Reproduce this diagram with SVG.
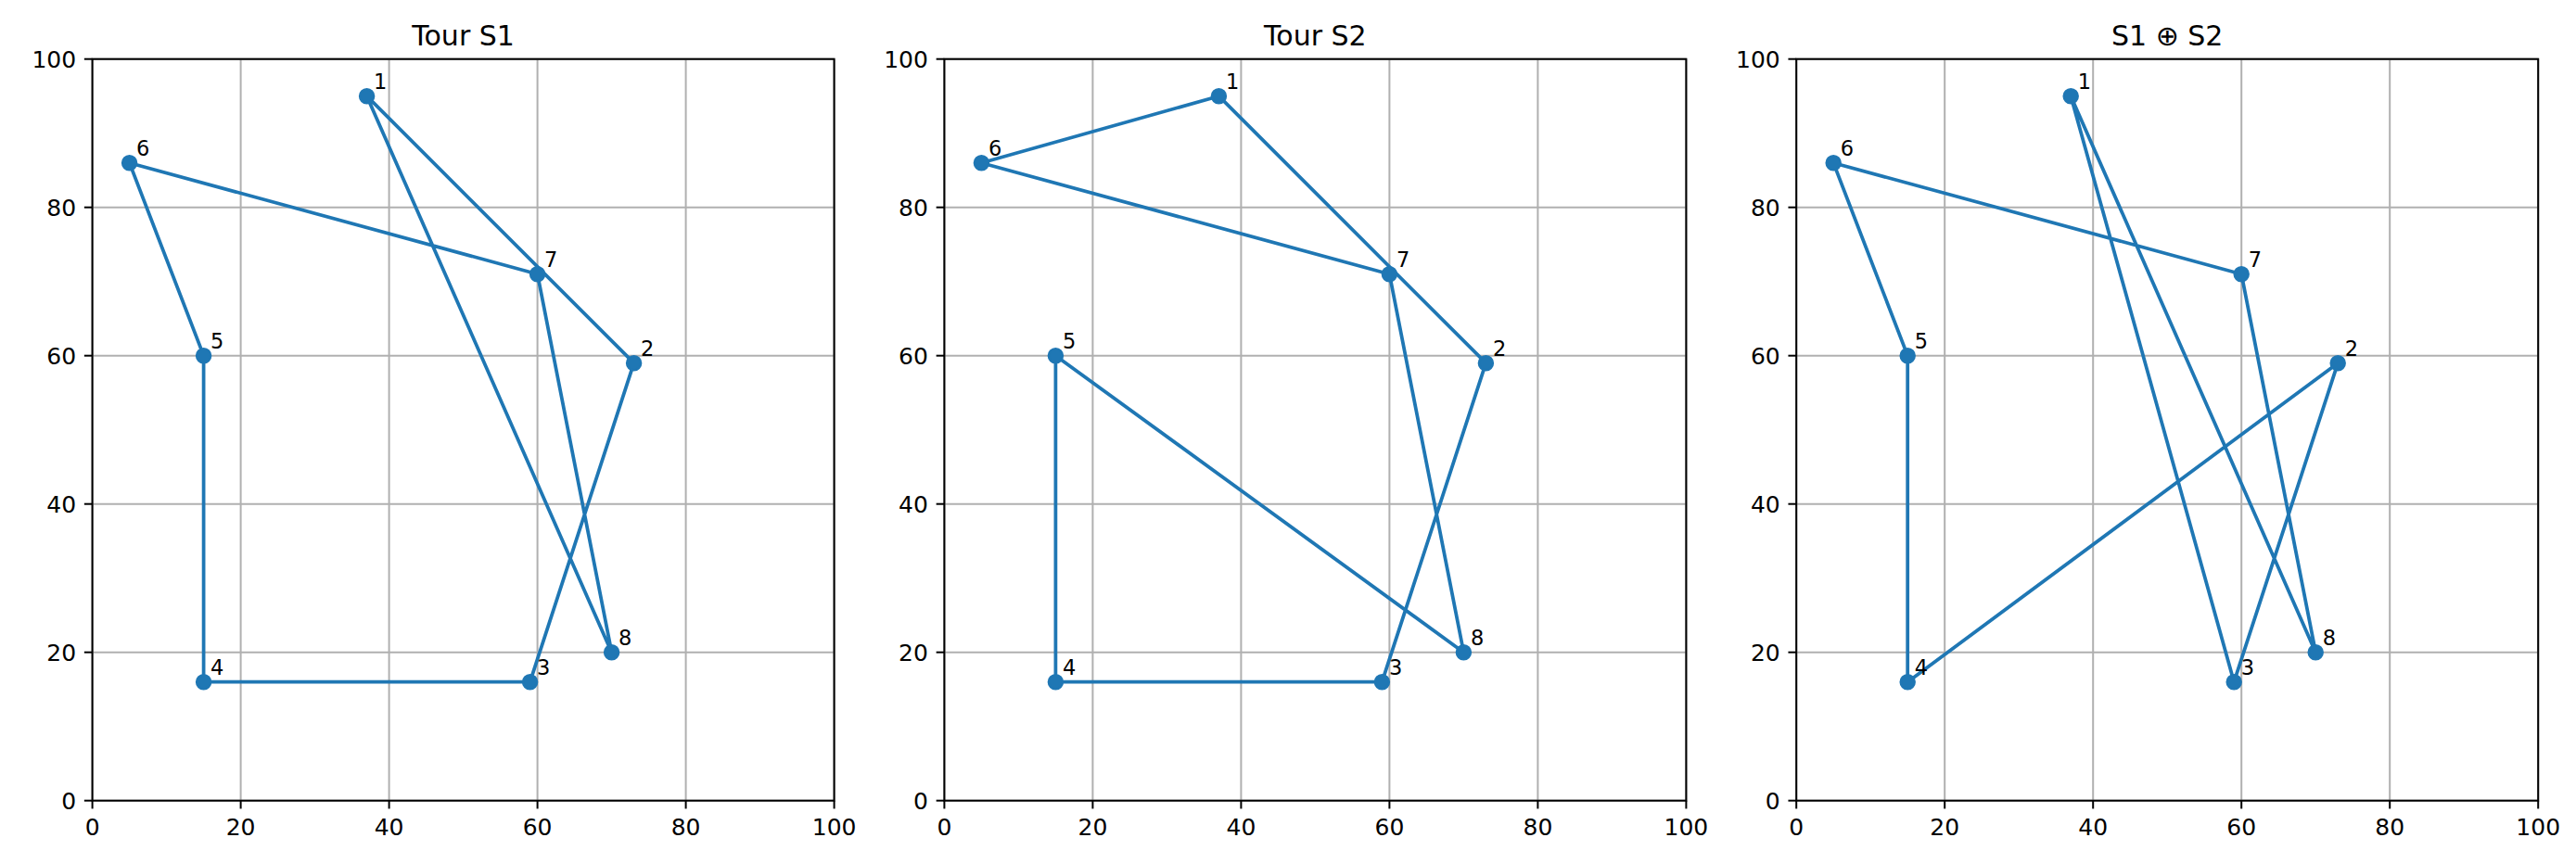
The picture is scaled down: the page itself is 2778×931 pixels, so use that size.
<svg xmlns="http://www.w3.org/2000/svg" width="2778" height="931" viewBox="0 0 2778 931">
<style>
text{font-family:"DejaVu Sans","Liberation Sans",sans-serif;fill:#000}
.tick{font-size:25px}
.xt{text-anchor:middle}
.yt{text-anchor:end}
.title{font-size:30px;text-anchor:middle}
.lbl{font-size:22.5px}
.grid line{stroke:#b0b0b0;stroke-width:2}
.spine{fill:none;stroke:#000;stroke-width:2}
.ticks line{stroke:#000;stroke-width:2}
.tour{fill:none;stroke:#1f77b4;stroke-width:3.75;stroke-linejoin:round}
.pt{fill:#1f77b4;stroke:#1f77b4;stroke-width:2.5}
</style>
<defs>
<g id="frame">
<rect x="0" y="-931" width="1" height="1" fill="none"/>
<g class="grid">
<line x1="0" y1="0" x2="0" y2="-800"/><line x1="160" y1="0" x2="160" y2="-800"/><line x1="320" y1="0" x2="320" y2="-800"/><line x1="480" y1="0" x2="480" y2="-800"/><line x1="640" y1="0" x2="640" y2="-800"/><line x1="800" y1="0" x2="800" y2="-800"/>
<line x1="0" y1="0" x2="800" y2="0"/><line x1="0" y1="-160" x2="800" y2="-160"/><line x1="0" y1="-320" x2="800" y2="-320"/><line x1="0" y1="-480" x2="800" y2="-480"/><line x1="0" y1="-640" x2="800" y2="-640"/><line x1="0" y1="-800" x2="800" y2="-800"/>
</g>
<g class="ticks">
<line x1="0" y1="0" x2="0" y2="8.75"/><line x1="160" y1="0" x2="160" y2="8.75"/><line x1="320" y1="0" x2="320" y2="8.75"/><line x1="480" y1="0" x2="480" y2="8.75"/><line x1="640" y1="0" x2="640" y2="8.75"/><line x1="800" y1="0" x2="800" y2="8.75"/>
<line x1="0" y1="0" x2="-8.75" y2="0"/><line x1="0" y1="-160" x2="-8.75" y2="-160"/><line x1="0" y1="-320" x2="-8.75" y2="-320"/><line x1="0" y1="-480" x2="-8.75" y2="-480"/><line x1="0" y1="-640" x2="-8.75" y2="-640"/><line x1="0" y1="-800" x2="-8.75" y2="-800"/>
</g>
<g class="tick xt">
<text x="0" y="37.8">0</text><text x="160" y="37.8">20</text><text x="320" y="37.8">40</text><text x="480" y="37.8">60</text><text x="640" y="37.8">80</text><text x="800" y="37.8">100</text>
</g>
<g class="tick yt">
<text x="-17.5" y="9.1">0</text><text x="-17.5" y="-150.9">20</text><text x="-17.5" y="-310.9">40</text><text x="-17.5" y="-470.9">60</text><text x="-17.5" y="-630.9">80</text><text x="-17.5" y="-790.9">100</text>
</g>
</g>
</defs>

<!-- Panel 1 -->
<g id="panel-s1" transform="translate(99.6,863.7)">
<use href="#frame"/>
<rect class="spine" x="0" y="-800" width="800" height="800"/>
<text class="title" x="400" y="-815">Tour S1</text>
<g id="s1-connectors">
<polyline class="tour" points="296,-760 584,-472 472,-128 120,-128 120,-480 40,-688 480,-568 560,-160 296,-760"/>
</g>
<g id="s1-n1"><circle class="pt" cx="296" cy="-760" r="7.5"/><text class="lbl" x="303.5" y="-767.5">1</text></g>
<g id="s1-n2"><circle class="pt" cx="584" cy="-472" r="7.5"/><text class="lbl" x="591.5" y="-479.5">2</text></g>
<g id="s1-n3"><circle class="pt" cx="472" cy="-128" r="7.5"/><text class="lbl" x="479.5" y="-135.5">3</text></g>
<g id="s1-n4"><circle class="pt" cx="120" cy="-128" r="7.5"/><text class="lbl" x="127.5" y="-135.5">4</text></g>
<g id="s1-n5"><circle class="pt" cx="120" cy="-480" r="7.5"/><text class="lbl" x="127.5" y="-487.5">5</text></g>
<g id="s1-n6"><circle class="pt" cx="40" cy="-688" r="7.5"/><text class="lbl" x="47.5" y="-695.5">6</text></g>
<g id="s1-n7"><circle class="pt" cx="480" cy="-568" r="7.5"/><text class="lbl" x="487.5" y="-575.5">7</text></g>
<g id="s1-n8"><circle class="pt" cx="560" cy="-160" r="7.5"/><text class="lbl" x="567.5" y="-167.5">8</text></g>
</g>

<!-- Panel 2 -->
<g id="panel-s2" transform="translate(1018.4,863.7)">
<use href="#frame"/>
<rect class="spine" x="0" y="-800" width="800" height="800"/>
<text class="title" x="400" y="-815">Tour S2</text>
<g id="s2-connectors">
<polyline class="tour" points="296,-760 584,-472 472,-128 120,-128 120,-480 560,-160 480,-568 40,-688 296,-760"/>
</g>
<g id="s2-n1"><circle class="pt" cx="296" cy="-760" r="7.5"/><text class="lbl" x="303.5" y="-767.5">1</text></g>
<g id="s2-n2"><circle class="pt" cx="584" cy="-472" r="7.5"/><text class="lbl" x="591.5" y="-479.5">2</text></g>
<g id="s2-n3"><circle class="pt" cx="472" cy="-128" r="7.5"/><text class="lbl" x="479.5" y="-135.5">3</text></g>
<g id="s2-n4"><circle class="pt" cx="120" cy="-128" r="7.5"/><text class="lbl" x="127.5" y="-135.5">4</text></g>
<g id="s2-n5"><circle class="pt" cx="120" cy="-480" r="7.5"/><text class="lbl" x="127.5" y="-487.5">5</text></g>
<g id="s2-n6"><circle class="pt" cx="40" cy="-688" r="7.5"/><text class="lbl" x="47.5" y="-695.5">6</text></g>
<g id="s2-n7"><circle class="pt" cx="480" cy="-568" r="7.5"/><text class="lbl" x="487.5" y="-575.5">7</text></g>
<g id="s2-n8"><circle class="pt" cx="560" cy="-160" r="7.5"/><text class="lbl" x="567.5" y="-167.5">8</text></g>
</g>

<!-- Panel 3 -->
<g id="panel-s1xs2" transform="translate(1937.2,863.7)">
<use href="#frame"/>
<rect class="spine" x="0" y="-800" width="800" height="800"/>
<text class="title" x="400" y="-815">S1 ⊕ S2</text>
<g id="s3-connectors">
<polyline class="tour" points="296,-760 472,-128 584,-472 120,-128 120,-480 40,-688 480,-568 560,-160 296,-760"/>
</g>
<g id="s3-n1"><circle class="pt" cx="296" cy="-760" r="7.5"/><text class="lbl" x="303.5" y="-767.5">1</text></g>
<g id="s3-n2"><circle class="pt" cx="584" cy="-472" r="7.5"/><text class="lbl" x="591.5" y="-479.5">2</text></g>
<g id="s3-n3"><circle class="pt" cx="472" cy="-128" r="7.5"/><text class="lbl" x="479.5" y="-135.5">3</text></g>
<g id="s3-n4"><circle class="pt" cx="120" cy="-128" r="7.5"/><text class="lbl" x="127.5" y="-135.5">4</text></g>
<g id="s3-n5"><circle class="pt" cx="120" cy="-480" r="7.5"/><text class="lbl" x="127.5" y="-487.5">5</text></g>
<g id="s3-n6"><circle class="pt" cx="40" cy="-688" r="7.5"/><text class="lbl" x="47.5" y="-695.5">6</text></g>
<g id="s3-n7"><circle class="pt" cx="480" cy="-568" r="7.5"/><text class="lbl" x="487.5" y="-575.5">7</text></g>
<g id="s3-n8"><circle class="pt" cx="560" cy="-160" r="7.5"/><text class="lbl" x="567.5" y="-167.5">8</text></g>
</g>
</svg>
